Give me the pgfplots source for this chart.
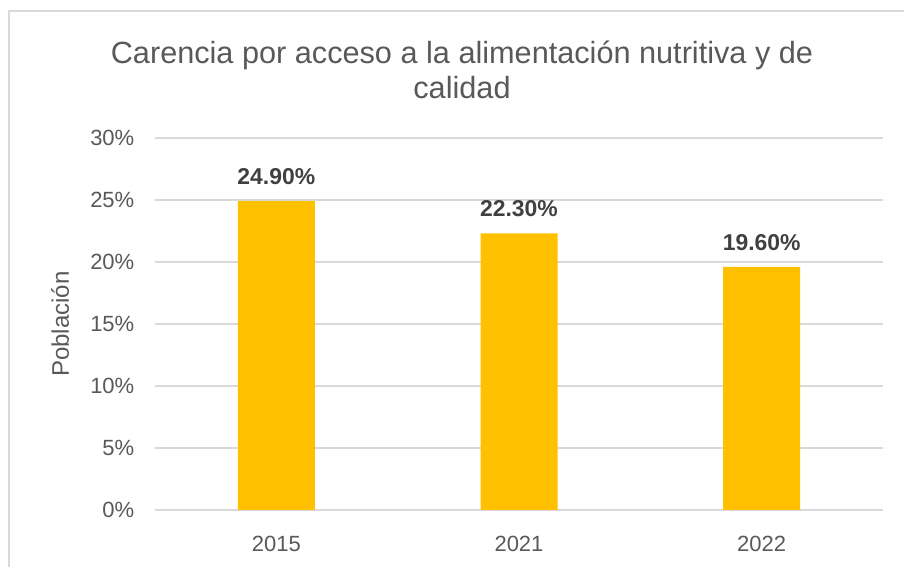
\documentclass[border=0pt]{standalone}
\usepackage{fontspec}
\setmainfont{Liberation Sans}
\usepackage{pgfplots}
\pgfplotsset{compat=1.18}
\definecolor{barfill}{HTML}{FFC000}
\definecolor{txtgray}{HTML}{595959}
\definecolor{lblgray}{HTML}{404040}
\definecolor{gridgray}{HTML}{D9D9D9}
\begin{document}
\begin{tikzpicture}
% page = 904 x 567 px, 1px = 0.75pt
\useasboundingbox (0pt,0pt) rectangle (678pt,425.25pt);
\draw[gridgray, line width=1.1pt] (6.75pt,-2pt) -- (6.75pt,417pt) -- (680pt,417pt);
\node[txtgray, font=\fontsize{23}{26}\selectfont, align=center] at (346.5pt,372.75pt)
  {Carencia por acceso a la alimentación nutritiva y de\\calidad};
\begin{axis}[
  at={(116.25pt,42.75pt)}, anchor=south west,
  scale only axis,
  width=546pt, height=279pt,
  xmin=-0.5, xmax=2.5,
  ymin=0, ymax=30,
  ytick={0,5,10,15,20,25,30},
  yticklabels={0\%,5\%,10\%,15\%,20\%,25\%,30\%},
  xtick={0,1,2},
  xticklabels={2015,2021,2022},
  axis line style={draw=none},
  tick style={draw=none},
  ymajorgrids,
  major grid style={gridgray, line width=0.9pt},
  ticklabel style={font=\fontsize{16.5}{19}\selectfont, color=txtgray},
  yticklabel style={xshift=-12pt},
  xticklabel style={yshift=-16pt},
  ylabel={Población},
  ylabel style={font=\fontsize{18}{21}\selectfont, color=txtgray, yshift=9pt},
  clip=false,
]
\addplot[ybar, bar width=57.75pt, fill=barfill, draw=none,
  point meta=explicit symbolic,
  nodes near coords,
  every node near coord/.append style={font=\bfseries\fontsize{17.2}{19}\selectfont, color=lblgray, anchor=south, yshift=9pt}]
  coordinates {(0,24.9) [24.90\%] (1,22.3) [22.30\%] (2,19.6) [19.60\%]};
\end{axis}
\end{tikzpicture}
\end{document}
